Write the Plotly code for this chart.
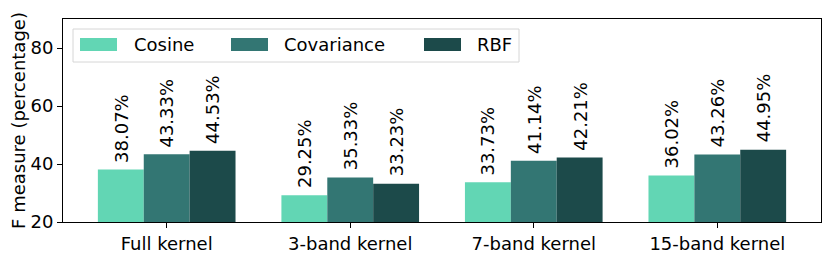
import plotly.graph_objects as go

categories = ["Full kernel", "3-band kernel", "7-band kernel", "15-band kernel"]
series_names = ["Cosine", "Covariance", "RBF"]
cosine = [38.07, 29.25, 33.73, 36.02]
covariance = [43.33, 35.33, 41.14, 43.26]
rbf = [44.53, 33.23, 42.21, 44.95]
colors = ["#62d6b4", "#337673", "#1c4a4a"]

font_family = "DejaVu Sans"
FS = 18

# figure geometry (page body has an 8px margin)
W, H = 822, 249
ML, MR, MT, MB = 55, 9, 11, 35
PW, PH = W - ML - MR, H - MT - MB
XR = [-0.565, 3.565]
BAR_W = 0.25


def px2x(px):
    return (px - 8 - ML) / PW


def py2y(py):
    return (H - MB + 8 - py) / PH


fig = go.Figure()
shapes = []
annotations = []
bar_px = BAR_W * PW / (XR[1] - XR[0])
for i, (name, vals, col) in enumerate(zip(series_names, [cosine, covariance, rbf], colors)):
    fig.add_trace(go.Bar(
        x=categories, y=vals, name=name, marker=dict(color=col, line=dict(width=0)),
        showlegend=False,
    ))
    for cat, v in zip(categories, vals):
        annotations.append(dict(
            x=cat, y=v, xref="x", yref="y", text=f"{v:.2f}%", showarrow=False,
            textangle=-90, xanchor="center", yanchor="bottom",
            xshift=(i - 1) * bar_px, yshift=5,
            font=dict(size=FS, color="black", family=font_family),
        ))

# manual legend (matplotlib style)
box_l, box_r, box_t, box_b = 73, 519, 29, 62
shapes.append(dict(
    type="rect", xref="paper", yref="paper",
    x0=px2x(box_l), x1=px2x(box_r), y0=py2y(box_b), y1=py2y(box_t),
    line=dict(color="#d6d6d6", width=1), fillcolor="rgba(255,255,255,0.8)", layer="above",
))
rect_x = [80, 231, 424]
text_x = [133, 283, 476]
for name, col, rx, tx in zip(series_names, colors, rect_x, text_x):
    shapes.append(dict(
        type="rect", xref="paper", yref="paper",
        x0=px2x(rx), x1=px2x(rx + 37), y0=py2y(51), y1=py2y(38),
        line=dict(width=0), fillcolor=col, layer="above",
    ))
    annotations.append(dict(
        xref="paper", yref="paper", x=px2x(tx), y=py2y(45), xanchor="left", yanchor="middle",
        text=name, showarrow=False, font=dict(size=FS, color="black", family=font_family),
        xshift=-1,
    ))

fig.update_layout(
    width=W, height=H,
    margin=dict(l=ML, r=MR, t=MT, b=MB, pad=0),
    barmode="group", bargap=1 - 3 * BAR_W, bargroupgap=0,
    plot_bgcolor="white", paper_bgcolor="white",
    font=dict(family=font_family, size=FS, color="black"),
    showlegend=False,
    shapes=shapes, annotations=annotations,
)
fig.update_xaxes(
    range=XR, showline=True, linecolor="black", linewidth=1, mirror=True,
    ticks="outside", ticklen=5, tickcolor="black", tickfont=dict(size=FS), automargin=False,
)
fig.update_yaxes(
    range=[20, 90], tickvals=[20, 40, 60, 80], showline=True, linecolor="black",
    linewidth=1, mirror=True, ticks="outside", ticklen=5, tickcolor="black",
    showgrid=False, zeroline=False, tickfont=dict(size=FS), automargin=False,
    title=dict(text="F measure (percentage)", font=dict(size=FS), standoff=6),
)
fig.write_html("out.html")
